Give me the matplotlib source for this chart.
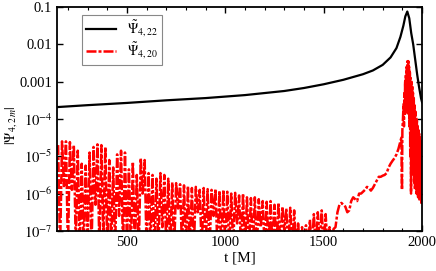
import numpy as np
import matplotlib
matplotlib.use("Agg")
import matplotlib.pyplot as plt
from matplotlib.ticker import FixedLocator, MultipleLocator

plt.rcParams['font.family'] = ['Liberation Serif', 'DejaVu Serif']
plt.rcParams['mathtext.fontset'] = 'stix'

# |Psi_4,22| (log10 values)
t_22 = [150, 300, 500, 700, 900, 1100, 1300, 1400, 1500, 1600, 1700, 1750,
        1800, 1840, 1870, 1890, 1905, 1915, 1925, 1935, 1945, 1955, 1965,
        1975, 1985, 1995, 2000]
log_22 = [-3.68, -3.63, -3.57, -3.50, -3.44, -3.36, -3.25, -3.17, -3.07,
          -2.95, -2.80, -2.70, -2.55, -2.35, -2.10, -1.80, -1.50, -1.25,
          -1.12, -1.30, -1.70, -2.00, -2.40, -2.80, -3.15, -3.45, -3.55]

# |Psi_4,20| noisy part, t = 150..1550 every 10 M (log10 values)
t_20_noise = list(range(150, 1560, 10))
log_20_noise = [
    -4.70, -7.5, -4.60, -5.8, -4.60, -7.5, -4.62, -5.9, -4.70, -7.4,
    -4.85, -7.5, -5.20, -7.5, -5.25, -7.3, -4.90, -7.5, -4.75, -6.3,
    -4.68, -7.5, -4.70, -7.2, -4.75, -7.5, -5.10, -7.5, -5.30, -7.5,
    -4.95, -6.6, -4.85, -7.5, -4.90, -7.4, -5.35, -7.5, -5.15, -7.5,
    -5.50, -7.5, -5.05, -6.0, -5.10, -7.5, -5.45, -7.3, -5.50, -7.5,
    -5.60, -7.5, -5.45, -6.9, -5.50, -7.5, -5.60, -7.5, -5.70, -7.5,
    -5.72, -6.4, -5.75, -7.5, -5.78, -7.5, -5.80, -7.5, -5.85, -7.5,
    -5.82, -6.5, -5.90, -7.5, -5.85, -7.5, -5.88, -7.5, -5.90, -6.6,
    -5.88, -7.5, -5.92, -7.5, -5.90, -7.5, -5.95, -7.5, -6.00, -7.4,
    -5.98, -6.8, -6.05, -7.5, -6.00, -7.5, -6.10, -7.5, -6.12, -7.5,
    -6.10, -7.5, -6.15, -6.9, -6.20, -7.5, -6.22, -7.5, -6.20, -7.5,
    -6.30, -7.5, -6.25, -7.5, -6.35, -7.0, -6.40, -7.5, -6.38, -7.5,
    -6.45, -7.5, -6.80, -7.5, -6.90, -7.5, -6.85, -7.5, -6.70, -7.5,
    -6.55, -7.5, -6.50, -7.3, -6.45, -7.5, -6.55, -7.5, -6.90, -7.5,
    -6.95,
]

# rising part towards merger
t_20_rise = [1560, 1570, 1580, 1590, 1600, 1610, 1620, 1630, 1640, 1650,
             1660, 1670, 1680, 1690, 1700, 1710, 1720, 1730, 1740, 1750,
             1760, 1770, 1780, 1790, 1800, 1810, 1820, 1830, 1840, 1850,
             1860, 1870, 1880, 1890]
log_20_rise = [-6.9, -6.5, -6.3, -6.25, -6.3, -6.35, -6.5, -6.45, -6.2, -6.1,
               -6.15, -6.2, -6.0, -6.0, -5.95, -5.9, -5.82, -5.85, -5.92, -5.85,
               -5.75, -5.65, -5.55, -5.55, -5.52, -5.5, -5.45, -5.3, -5.2, -5.12,
               -5.05, -4.95, -4.8, -4.6]

# merger / ringdown spike
t_20_peak = [1895, 1898, 1900, 1903, 1906, 1908, 1910, 1912, 1914, 1916,
             1918, 1920, 1922, 1924, 1926, 1928, 1930, 1932, 1934, 1936,
             1938, 1940, 1942, 1944, 1946, 1948, 1950, 1952, 1954, 1956,
             1958, 1960, 1962, 1964, 1966, 1968, 1970, 1972, 1974, 1976,
             1978, 1980, 1982, 1984, 1986, 1988, 1990, 1992, 1994, 1996,
             1998, 2000]
log_20_peak = [-4.5, -5.9, -4.3, -4.0, -3.6, -4.2, -3.3, -3.9, -3.0, -3.6,
               -2.8, -3.8, -2.6, -3.5, -2.45, -3.9, -2.45, -3.3, -2.6, -4.2,
               -2.75, -5.0, -2.9, -6.0, -3.0, -4.6, -3.1, -5.2, -3.3, -5.5,
               -3.45, -5.7, -3.6, -5.9, -3.8, -5.4, -3.95, -6.0, -4.05, -5.8,
               -4.2, -6.1, -4.3, -5.9, -4.4, -6.2, -4.55, -6.0, -4.6, -6.25,
               -4.7, -6.1]

t_20 = np.array(t_20_noise + t_20_rise + t_20_peak)
psi_20 = 10.0 ** np.array(log_20_noise + log_20_rise + log_20_peak)
psi_22 = 10.0 ** np.array(log_22)

y_ticks = [1e-1, 1e-2, 1e-3, 1e-4, 1e-5, 1e-6, 1e-7]
y_labels = ['0.1', '0.01', '0.001', r'$10^{-4}$', r'$10^{-5}$',
            r'$10^{-6}$', r'$10^{-7}$']

fig = plt.figure(figsize=(4.36, 2.71), dpi=100)
ax = fig.add_axes([0.131, 0.148, 0.837, 0.826])

ax.plot(t_22, psi_22, color='black', lw=1.6, label=r'$\tilde{\Psi}_{4,22}$', zorder=3)
ax.plot(t_20, psi_20, color='red', lw=1.8, dashes=(4, 0.8, 1.2, 0.8),
        label=r'$\tilde{\Psi}_{4,20}$', zorder=2)

ax.set_yscale('log')
ax.set_xlim(145, 2000)
ax.set_ylim(1e-7, 1e-1)
ax.yaxis.set_major_locator(FixedLocator(y_ticks))
ax.yaxis.set_minor_locator(FixedLocator([]))
ax.set_yticklabels(y_labels)
ax.xaxis.set_major_locator(MultipleLocator(500))
ax.xaxis.set_minor_locator(MultipleLocator(100))
ax.tick_params(which='both', direction='in', top=True, right=True, labelsize=10.5)
ax.tick_params(which='major', length=4, width=1)
ax.tick_params(which='minor', length=2, width=0.8)
for s in ax.spines.values():
    s.set_linewidth(1.3)

ax.set_xlabel('t [M]', fontsize=11, labelpad=2)
ax.set_ylabel(r'$|\Psi_{4,2\,m}|$', fontsize=10)
ax.yaxis.set_label_coords(-0.102, 0.47)

leg = ax.legend(loc='upper left', bbox_to_anchor=(0.05, 0.995), fontsize=10,
                fancybox=False, framealpha=1, edgecolor='#888888',
                handlelength=2.2, borderpad=0.25, labelspacing=0.15)
leg.get_frame().set_linewidth(0.8)

fig.savefig('out.png', dpi=100)
